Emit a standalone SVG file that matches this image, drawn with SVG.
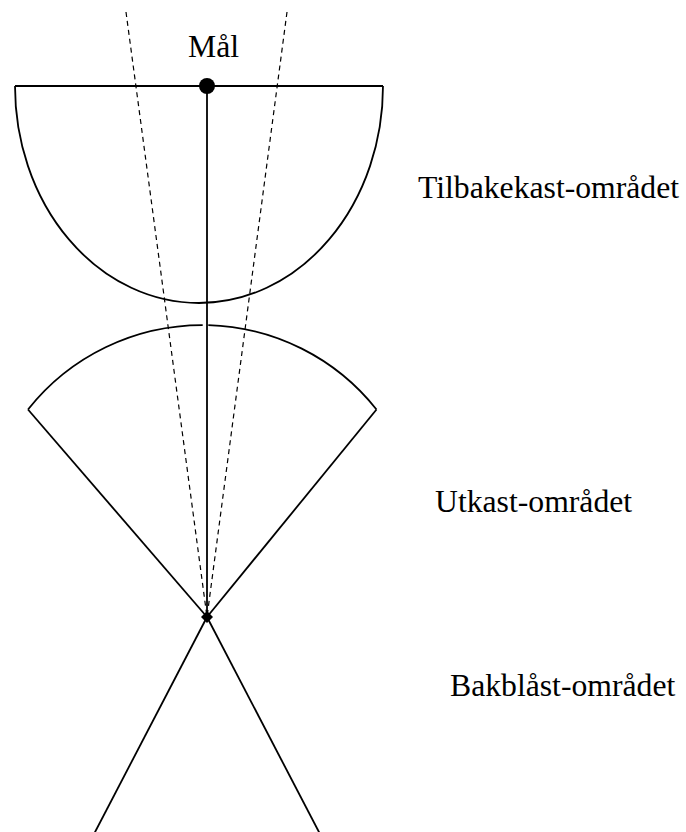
<svg xmlns="http://www.w3.org/2000/svg" width="686" height="832" viewBox="0 0 686 832">
<style>
.ln{fill:none;stroke:#000;stroke-width:1.8}
.dash{fill:none;stroke:#000;stroke-width:1.2;stroke-dasharray:5,4}
.lbl{font-family:"Liberation Serif","Times New Roman",serif;font-size:31.7px;fill:#000}
</style>
<rect width="686" height="832" fill="#fff"/>
<g id="connectors">
<line class="dash" x1="126" y1="12" x2="207" y2="617"/>
<line class="dash" x1="287" y1="12" x2="207" y2="617"/>
<line class="ln" x1="207" y1="86" x2="207" y2="617"/>
<line class="ln" x1="28" y1="409.5" x2="207" y2="617"/>
<line class="ln" x1="376.5" y1="409.5" x2="207" y2="617"/>
<line class="ln" x1="207" y1="617" x2="94" y2="834"/>
<line class="ln" x1="207" y1="617" x2="320" y2="834"/>
</g>
<g id="tilbakekast">
<path class="ln" d="M15,86 H383 M15,86 A184,217 0 0 0 383,86"/>
<text class="lbl" x="418" y="197.5">Tilbakekast-området</text>
</g>
<g id="utkast">
<path class="ln" d="M28,409.5 A222.4,222.4 0 0 1 202.7,325.1"/>
<path class="ln" d="M208.3,325.1 A222.4,222.4 0 0 1 376.5,409.5"/>
<text class="lbl" x="435" y="511.5">Utkast-området</text>
</g>
<g id="bakblast">
<text class="lbl" x="450" y="695.5">Bakblåst-området</text>
</g>
<g id="maal">
<circle cx="207" cy="86" r="8" fill="#000"/>
<text class="lbl" x="188" y="56.5">Mål</text>
</g>
<g id="apex">
<polygon points="207,611 213,617 207,623 201,617" fill="#000"/>
</g>
</svg>
